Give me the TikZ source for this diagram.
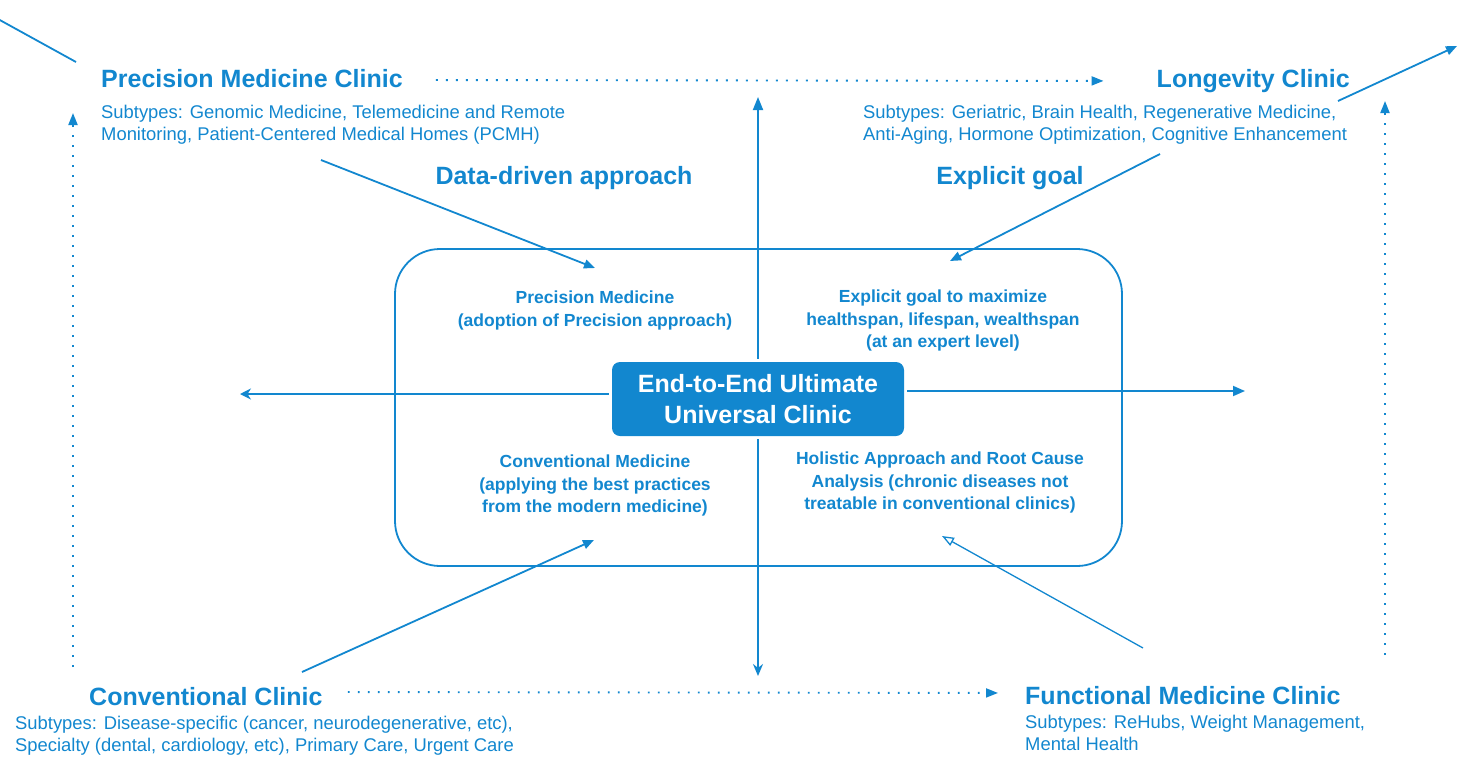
\documentclass[tikz,border=0pt]{standalone}
\usepackage{fontspec}
\setmainfont{Liberation Sans}
\usetikzlibrary{positioning,arrows.meta}
\definecolor{clinicblue}{HTML}{1287CF}

\begin{document}
\begin{tikzpicture}[x=1pt,y=-1pt]
  \tikzset{
    title/.style={text=clinicblue, inner sep=0pt, font=\bfseries\fontsize{25}{30}\selectfont},
    subtypes/.style={text=clinicblue, inner sep=0pt, align=left, font=\fontsize{18.4}{22}\selectfont},
    quadrant/.style={text=clinicblue, inner sep=0pt, align=center, font=\bfseries\fontsize{17.5}{22.5}\selectfont},
    hubbox/.style={fill=clinicblue, text=white, rounded corners=8pt, minimum width=292pt, minimum height=74pt,
      inner sep=0pt, align=center, font=\bfseries\fontsize{25}{31}\selectfont},
    link/.style={draw=clinicblue, line width=1.8pt, -{Triangle[width=9pt,length=11pt]}},
    axis/.style={draw=clinicblue, line width=1.8pt},
    dots/.style={draw=clinicblue, line width=1.9pt, dash pattern=on 1.9pt off 8.1pt,
      -{Triangle[width=9pt,length=12pt]}}
  }
  \useasboundingbox (0,0) rectangle (1457,758);

  % outer frame and axes
  \node[draw=clinicblue, line width=1.8pt, rounded corners=45pt, minimum width=727pt, minimum height=317pt]
    (frame) at (758.5,407.5) {};
  \coordinate (axN) at (758,97);
  \coordinate (axS) at (758,676);
  \coordinate (axW) at (240,394);
  \coordinate (axE) at (1245,391);
  \node[hubbox] (hub) at (758,399) {End-to-End Ultimate\\Universal Clinic};
  \draw[axis, -{Triangle[width=10pt,length=13pt]}, shorten <=3pt] (hub.north) -- (axN);
  \draw[axis, -{Stealth[width=10pt,length=12pt]}, shorten <=3pt] (hub.south) -- (axS);
  \draw[axis, -{Stealth[width=11pt,length=11pt]}, shorten <=3pt] (hub.west |- axW) -- (axW);
  \draw[axis, -{Triangle[width=10pt,length=12pt]}, shorten <=3pt] (hub.east |- axE) -- (axE);

  % clinics
  \node[title, anchor=base west] (pmc) at (101,87) {Precision Medicine Clinic};
  \node[subtypes, anchor=north west] (pmsub) at (101,105)
    {Subtypes: Genomic Medicine, Telemedicine and Remote\\Monitoring, Patient-Centered Medical Homes (PCMH)};
  \node[title, anchor=base east] (lc) at (1350,87) {Longevity Clinic};
  \node[subtypes, anchor=north west] (lcsub) at (863,105)
    {Subtypes: Geriatric, Brain Health, Regenerative Medicine,\\Anti-Aging, Hormone Optimization, Cognitive Enhancement};
  \node[title, anchor=base west] (cc) at (89,705) {Conventional Clinic};
  \node[subtypes, anchor=north west] (ccsub) at (15,716)
    {Subtypes: Disease-specific (cancer, neurodegenerative, etc),\\Specialty (dental, cardiology, etc), Primary Care, Urgent Care};
  \node[title, anchor=base west] (fmc) at (1025,704) {Functional Medicine Clinic};
  \node[subtypes, anchor=north west] (fmsub) at (1025,715)
    {Subtypes: ReHubs, Weight Management,\\Mental Health};

  \node[title, anchor=base] (data) at (564,184) {Data-driven approach};
  \node[title, anchor=base] (goal) at (1010,184) {Explicit goal};

  % quadrants
  \node[quadrant, anchor=north] (qpm) at (595,291) {Precision Medicine\\(adoption of Precision approach)};
  \node[quadrant, anchor=north] (qgoal) at (943,290)
    {Explicit goal to maximize\\healthspan, lifespan, wealthspan\\(at an expert level)};
  \node[quadrant, anchor=north] (qcm) at (595,455)
    {Conventional Medicine\\(applying the best practices\\from the modern medicine)};
  \node[quadrant, anchor=north] (qfm) at (940,452)
    {Holistic Approach and Root Cause\\Analysis (chronic diseases not\\treatable in conventional clinics)};

  % links
  \coordinate (pmout) at (76,62);
  \coordinate (pmfar) at (-22,8);
  \coordinate (lcout) at (1338,101);
  \coordinate (lcfar) at (1457,46);
  \coordinate (pmfrom) at (321,160);
  \coordinate (pmto) at (595,268);
  \coordinate (goalfrom) at (1160,154);
  \coordinate (goalto) at (950,261);
  \coordinate (ccfrom) at (302,672);
  \coordinate (ccto) at (594,540);
  \coordinate (fmfrom) at (1143,648);
  \coordinate (fmto) at (942,536);
  \draw[link] (pmout) -- (pmfar);
  \draw[link] (lcout) -- (lcfar);
  \draw[link] (pmfrom) -- (pmto);
  \draw[link] (goalfrom) -- (goalto);
  \draw[link] (ccfrom) -- (ccto);
  \draw[link, line width=1.3pt, -{Triangle[open,width=9pt,length=12pt]}] (fmfrom) -- (fmto);

  % dotted transitions
  \coordinate (lup) at (73,667);
  \coordinate (ltop) at (73,113);
  \coordinate (rup) at (1385,655);
  \coordinate (rtop) at (1385,101);
  \draw[dots, shorten <=33pt, shorten >=53pt] (pmc.east |- 0,80) -- (lc.west |- 0,81);
  \draw[dots, shorten <=25pt, shorten >=27pt] (cc.east |- 0,692) -- (fmc.west |- 0,693);
  \draw[dots] (lup) -- (ltop);
  \draw[dots] (rup) -- (rtop);
\end{tikzpicture}
\end{document}
